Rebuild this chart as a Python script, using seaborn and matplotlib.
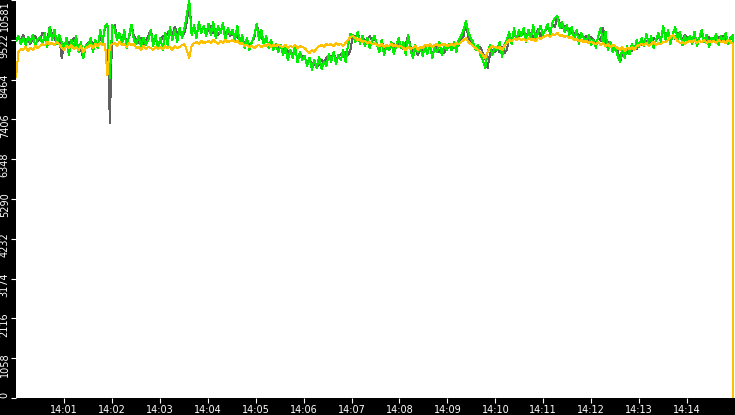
import numpy as np
import pandas as pd
import matplotlib
matplotlib.use("Agg")
import matplotlib.pyplot as plt
import matplotlib.dates as mdates
from matplotlib.transforms import ScaledTranslation
import seaborn as sns

# muestras cada ~3 s entre las 14:00:00 y el corte final
t0 = "2024-01-01 14:00:00"
t_fin = "2024-01-01 14:14:57.5"

verde = [
    9490, 9624, 9411, 9571, 9384, 9597, 9464, 9650, 9358, 9544,
    9597, 9384, 9703, 9331, 9863, 9517, 9783, 9411, 9650, 9464,
    9252, 9571, 9119, 9517, 9305, 9624, 9198, 9464, 9039, 9384,
    9384, 9571, 9198, 9517, 9305, 9783, 9464, 9890, 9943, 8507,
    9916, 9810, 9517, 9703, 9384, 9783, 9305, 9650, 9916, 9517,
    9411, 9624, 9331, 9571, 9384, 9517, 9783, 9358, 9650, 9305,
    9571, 9252, 9703, 9384, 9863, 9517, 9783, 9464, 9836, 9571,
    9836, 10182, 10581, 9650, 9916, 9571, 9996, 9703, 9890, 9624,
    9943, 9650, 9996, 9571, 9890, 9703, 9969, 9517, 9836, 9677,
    9783, 9517, 9890, 9411, 9650, 9305, 9571, 9252, 9464, 9624,
    9943, 9517, 9783, 9384, 9624, 9305, 9517, 9252, 9411, 9198,
    9384, 9119, 9305, 8986, 9252, 9039, 9358, 8932, 9198, 8986,
    9092, 8826, 9039, 8720, 8986, 8773, 9065, 8746, 8932, 8826,
    9145, 8932, 9198, 8879, 9119, 8986, 9252, 8932, 9384, 9677,
    9650, 9464, 9730, 9411, 9624, 9358, 9571, 9305, 9517, 9624,
    9411, 9198, 9517, 9119, 9384, 9252, 9464, 9145, 9358, 9571,
    9305, 9464, 9119, 9650, 9252, 9039, 9384, 9198, 9331, 9092,
    9358, 9145, 9411, 9039, 9305, 9198, 9464, 9119, 9384, 9252,
    9411, 9252, 9464, 9198, 9517, 9624, 9783, 10023, 9730, 9571,
    9464, 9252, 9384, 9119, 8986, 8773, 9198, 9384, 9119, 9305,
    9252, 9464, 9065, 9384, 9517, 9730, 9411, 9836, 9517, 9783,
    9624, 9836, 9464, 9783, 9571, 9916, 9517, 9730, 9890, 9650,
    9783, 9943, 9677, 9996, 10102, 10156, 9836, 9996, 9730, 9916,
    9650, 9863, 9517, 9783, 9411, 9703, 9571, 9464, 9650, 9384,
    9517, 9305, 9624, 9836, 9411, 9730, 9252, 9464, 9198, 9358,
    9119, 8932, 9305, 9039, 9358, 9145, 9411, 9252, 9517, 9331,
    9571, 9358, 9677, 9411, 9624, 9305, 9517, 9703, 9464, 9890,
    9517, 9783, 9411, 9677, 9863, 9517, 9730, 9384, 9624, 9464,
    9624, 9411, 9730, 9358, 9571, 9783, 9464, 9650, 9331, 9571,
    9517, 9677, 9384, 9624, 9464, 9703, 9411, 9571, 9650, 9384,
]

gris = [
    9517, 9597, 9491, 9650, 9464, 9544, 9411, 9571, 9624, 9491,
    9544, 9704, 9597, 9517, 9863, 9650, 9571, 9438, 9624, 9039,
    9411, 9331, 9464, 9384, 9571, 9305, 9358, 9252, 9039, 9384,
    9438, 9517, 9384, 9464, 9331, 9571, 9491, 9836, 9943, 7320,
    9810, 9916, 9571, 9677, 9517, 9624, 9464, 9597, 9916, 9624,
    9517, 9438, 9571, 9411, 9491, 9624, 9783, 9464, 9544, 9384,
    9464, 9624, 9544, 9704, 9783, 9624, 9863, 9677, 9757, 9597,
    9704, 9996, 10581, 9730, 9836, 9677, 9890, 9783, 9863, 9730,
    9783, 9890, 9704, 9810, 9650, 9757, 9836, 9677, 9783, 9624,
    9704, 9571, 9650, 9491, 9571, 9411, 9517, 9358, 9464, 9571,
    9943, 9677, 9571, 9464, 9517, 9384, 9438, 9331, 9411, 9305,
    9358, 9252, 9305, 9172, 9252, 9119, 9198, 9039, 9145, 9092,
    9039, 8932, 8986, 8853, 8932, 8773, 8879, 8986, 8906, 9039,
    9119, 9039, 9172, 8986, 9092, 9145, 9065, 9198, 9119, 9252,
    9650, 9571, 9677, 9517, 9597, 9464, 9544, 9624, 9491, 9571,
    9411, 9331, 9464, 9305, 9384, 9252, 9358, 9411, 9305, 9438,
    9358, 9278, 9411, 9650, 9331, 9198, 9305, 9119, 9278, 9225,
    9305, 9198, 9331, 9145, 9252, 9358, 9198, 9278, 9172, 9331,
    9358, 9411, 9305, 9438, 9384, 9517, 9624, 10023, 9571, 9464,
    9384, 9305, 9252, 9331, 9172, 9039, 8773, 9145, 9252, 9198,
    9278, 9198, 9331, 9172, 9252, 9597, 9517, 9677, 9571, 9650,
    9624, 9704, 9597, 9757, 9650, 9571, 9677, 9810, 9624, 9704,
    9757, 9836, 9783, 9916, 9863, 10156, 9943, 9836, 9890, 9783,
    9810, 9704, 9650, 9757, 9597, 9677, 9571, 9624, 9517, 9597,
    9517, 9438, 9571, 9491, 9836, 9411, 9464, 9358, 9384, 9305,
    9252, 8932, 9145, 9252, 9172, 9305, 9225, 9358, 9278, 9411,
    9384, 9491, 9438, 9544, 9464, 9571, 9517, 9597, 9491, 9890,
    9571, 9677, 9597, 9650, 9544, 9704, 9624, 9517, 9650, 9571,
    9597, 9517, 9624, 9464, 9571, 9650, 9544, 9491, 9597, 9517,
    9571, 9491, 9597, 9517, 9624, 9544, 9464, 9571, 9517, 4680,
]

naranja = [
    8534, 9198, 9278, 9252, 9331, 9225, 9305, 9252, 9358, 9305,
    9358, 9411, 9384, 9464, 9411, 9438, 9384, 9464, 9411, 9305,
    9252, 9358, 9305, 9384, 9278, 9331, 9252, 9358, 9198, 9305,
    9331, 9384, 9305, 9411, 9358, 9438, 9384, 9411, 8587, 9358,
    9411, 9438, 9358, 9464, 9384, 9411, 9331, 9438, 9384, 9411,
    9305, 9331, 9252, 9358, 9278, 9331, 9305, 9252, 9331, 9278,
    9331, 9278, 9358, 9305, 9331, 9252, 9358, 9305, 9331, 9384,
    9411, 9252, 9039, 9358, 9438, 9464, 9411, 9491, 9438, 9464,
    9491, 9438, 9517, 9464, 9411, 9491, 9438, 9517, 9464, 9491,
    9517, 9464, 9491, 9411, 9438, 9358, 9384, 9331, 9358, 9305,
    9358, 9384, 9331, 9384, 9358, 9411, 9331, 9384, 9358, 9384,
    9358, 9331, 9384, 9305, 9358, 9331, 9384, 9305, 9358, 9331,
    9305, 9225, 9172, 9252, 9198, 9305, 9358, 9384, 9331, 9411,
    9384, 9411, 9358, 9438, 9384, 9411, 9358, 9438, 9517, 9597,
    9624, 9571, 9517, 9544, 9464, 9491, 9438, 9464, 9411, 9438,
    9384, 9358, 9411, 9331, 9384, 9358, 9411, 9358, 9384, 9331,
    9358, 9305, 9252, 9331, 9278, 9305, 9358, 9252, 9331, 9305,
    9384, 9358, 9411, 9331, 9384, 9411, 9358, 9384, 9411, 9358,
    9384, 9411, 9358, 9438, 9411, 9464, 9517, 9571, 9464, 9411,
    9358, 9305, 9252, 9198, 9119, 9039, 9198, 9305, 9358, 9331,
    9305, 9331, 9252, 9358, 9438, 9517, 9491, 9544, 9517, 9571,
    9517, 9544, 9491, 9571, 9517, 9544, 9491, 9571, 9544, 9597,
    9624, 9650, 9597, 9677, 9650, 9703, 9624, 9650, 9597, 9624,
    9571, 9597, 9517, 9544, 9491, 9517, 9464, 9491, 9438, 9464,
    9438, 9411, 9464, 9384, 9438, 9358, 9411, 9331, 9384, 9358,
    9305, 9252, 9331, 9225, 9305, 9278, 9331, 9252, 9358, 9384,
    9411, 9384, 9438, 9358, 9411, 9464, 9384, 9438, 9411, 9464,
    9464, 9517, 9597, 9650, 9571, 9491, 9438, 9464, 9411, 9464,
    9491, 9464, 9517, 9438, 9491, 9464, 9517, 9438, 9491, 9464,
    9491, 9438, 9517, 9464, 9491, 9438, 9517, 9464, 9411, 0,
]

ytick_vals = [0, 1058.1, 2116.2, 3174.3, 4232.4, 5290.5, 6348.6, 7406.7, 8464.8, 9522.9, 10581]
ytick_txt = ["0", "1058", "2116", "3174", "4232", "5290", "6348", "7406", "8464", "9522", "10581"]

# el último punto (la caída final) cae en el mismo instante que el anterior
tiempo = list(pd.date_range(t0, t_fin, periods=len(verde) - 1)) + [pd.Timestamp(t_fin)]
df = pd.DataFrame({"tiempo": tiempo, "gris": gris, "verde": verde, "naranja": naranja})

fig = plt.figure(figsize=(7.35, 4.15), dpi=100, facecolor="black")
ax = fig.add_axes([16 / 735, 17 / 415, 719 / 735, 398 / 415])
ax.set_facecolor("white")

estilo = dict(linewidth=0.75, antialiased=False, estimator=None, sort=False)
sns.lineplot(data=df, x="tiempo", y="gris", color="#606060", ax=ax, **estilo)
sns.lineplot(data=df, x="tiempo", y="verde", color="#00ee00", ax=ax, **estilo)
sns.lineplot(data=df, x="tiempo", y="naranja", color="#ffc000", ax=ax, **estilo)

ax.set_xlim(pd.Timestamp("2024-01-01 14:00:00"), pd.Timestamp("2024-01-01 14:15:00"))
ax.set_ylim(0, 10581)
ax.set_xlabel("")
ax.set_ylabel("")

ax.xaxis.set_major_locator(mdates.MinuteLocator(byminute=range(1, 15)))
ax.xaxis.set_major_formatter(mdates.DateFormatter("%H:%M"))
ax.set_yticks(ytick_vals)
ax.set_yticklabels(ytick_txt)

ax.tick_params(colors="white", length=3.5, width=0.8, direction="out", labelsize=7)
ax.tick_params(axis="x", pad=1.5)
ax.tick_params(axis="y", pad=1)
for s in ax.spines.values():
    s.set_visible(False)

desplaza = ScaledTranslation(0, -6 / 100, fig.dpi_scale_trans)
etiquetas = ax.get_yticklabels()
for k, lab in enumerate(etiquetas):
    lab.set_rotation(90)
    if k == 0:
        lab.set_va("bottom")
    elif k == len(etiquetas) - 1:
        lab.set_va("top")
    else:
        lab.set_va("center")
        lab.set_transform(lab.get_transform() + desplaza)

fig.savefig("out.png", dpi=100, facecolor="black")
